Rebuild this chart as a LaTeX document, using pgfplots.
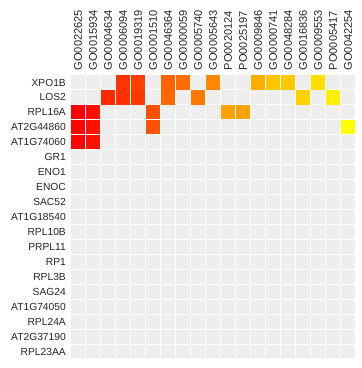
\documentclass[border=0pt]{standalone}
\usepackage{pgfplots}
\pgfplotsset{compat=1.18}
\usepackage{fontspec}
\setmainfont{Liberation Sans}
\definecolor{cellgray}{RGB}{238,238,238}
\begin{document}
\begin{tikzpicture}
\begin{axis}[
  scale only axis, width=213.75pt, height=213pt,
  xmin=-0.5, xmax=18.5, ymin=-0.5, ymax=18.5,
  axis line style={draw=none},
  axis background/.style={fill=cellgray},
  xtick={0,...,18}, ytick={0,...,18},
  xticklabels={GO0022625,GO0015934,GO0004634,GO0006094,GO0019319,GO0001510,GO0046364,GO0000059,GO0005740,GO0005643,PO0020124,PO0025197,GO0009846,GO0000741,GO0048284,GO0016836,GO0009553,PO0005417,GO0042254},
  yticklabels={RPL23AA,AT2G37190,RPL24A,AT1G74050,SAG24,RPL3B,RP1,PRPL11,RPL10B,AT1G18540,SAC52,ENOC,ENO1,GR1,AT1G74060,AT2G44860,RPL16A,LOS2,XPO1B},
  xticklabel pos=top,
  major tick length=0pt, minor tick length=0pt,
  tick label style={text=black!85},
  xticklabel style={font=\fontsize{8.3}{9}\selectfont, rotate=90, anchor=west, xshift=0pt},
  yticklabel style={font=\fontsize{7.7}{9}\selectfont, anchor=east},
  minor xtick={-0.5,0.5,...,18.5}, minor ytick={-0.5,0.5,...,18.5},
  xminorgrids=true, yminorgrids=true,
  xmajorgrids=false, ymajorgrids=false,
  minor grid style={white, line width=0.75pt},
  colormap={heat}{rgb255=(255,0,0) rgb255=(255,255,0)},
  point meta min=0, point meta max=1,
  clip=false,
]
\addplot[scatter, only marks, mark=square*, mark size=4.95pt, point meta=explicit,
  mark options={line width=0pt},
  scatter/use mapped color={draw=mapped color, fill=mapped color}]
  table[meta=v] {
x y v
3 18 0.20
4 18 0.24
6 18 0.38
7 18 0.42
9 18 0.53
12 18 0.67
13 18 0.77
14 18 0.78
16 18 0.87
2 17 0.16
3 17 0.19
4 17 0.22
6 17 0.40
8 17 0.47
15 17 0.82
17 17 0.93
0 16 0.00
1 16 0.06
5 16 0.31
10 16 0.63
11 16 0.63
0 15 0.02
1 15 0.07
5 15 0.32
18 15 1.00
0 14 0.01
1 14 0.07
};
\end{axis}
\pgfresetboundingbox
\path ([shift={(-52.9pt,-6.75pt)}]current axis.south west) rectangle ([shift={(4.5pt,56.25pt)}]current axis.north east);
\end{tikzpicture}
\end{document}
